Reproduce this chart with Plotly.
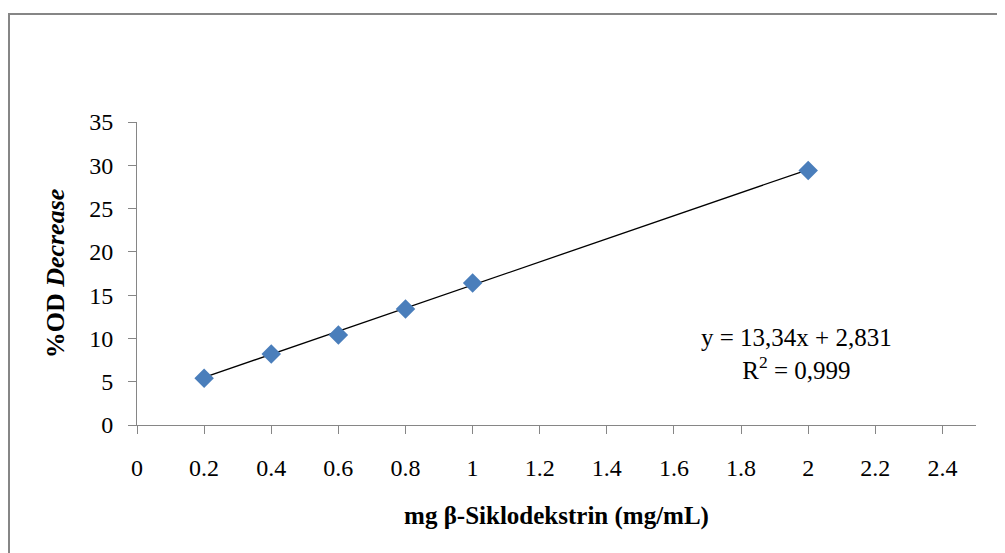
import plotly.graph_objects as go

x_vals = [0.2, 0.4, 0.6, 0.8, 1.0, 2.0]
y_vals = [5.4, 8.2, 10.4, 13.4, 16.4, 29.4]
slope = 13.34
intercept = 2.831
eq_text = "y = 13,34x + 2,831<br>R<sup>2</sup> = 0,999"
x_ticks = [0, 0.2, 0.4, 0.6, 0.8, 1.0, 1.2, 1.4, 1.6, 1.8, 2.0, 2.2, 2.4]
x_ticklabels = ["0", "0.2", "0.4", "0.6", "0.8", "1", "1.2", "1.4", "1.6", "1.8", "2", "2.2", "2.4"]
y_ticks = [0, 5, 10, 15, 20, 25, 30, 35]

fnt = "Liberation Serif, Times New Roman, serif"

trend_x = [min(x_vals), max(x_vals)]
trend_y = [slope * v + intercept for v in trend_x]

fig = go.Figure()
fig.add_trace(go.Scatter(x=trend_x, y=trend_y, mode="lines",
                         line=dict(color="black", width=1.3), showlegend=False, hoverinfo="skip"))
fig.add_trace(go.Scatter(x=x_vals, y=y_vals, mode="markers",
                         marker=dict(symbol="diamond", size=15, color="#4A7EBB",
                                     line=dict(width=0)), showlegend=False))

fig.update_layout(
    width=1005, height=553,
    margin=dict(l=129, r=37, t=114, b=136),
    paper_bgcolor="white", plot_bgcolor="white",
    font=dict(family=fnt, size=24, color="black"),
    xaxis=dict(range=[0, 2.5], tickvals=x_ticks, ticktext=x_ticklabels,
               showgrid=False, zeroline=False, showline=True, linecolor="#868686", linewidth=1,
               ticks="outside", ticklen=8, tickcolor="#868686", ticklabelstandoff=13,
               tickfont=dict(family=fnt, size=24),
               title=dict(text="<b>mg β-Siklodekstrin (mg/mL)</b>", font=dict(family=fnt, size=25), standoff=26)),
    yaxis=dict(range=[0, 35], tickvals=y_ticks,
               showgrid=False, zeroline=False, showline=True, linecolor="#868686", linewidth=1,
               ticks="outside", ticklen=8, tickcolor="#868686", ticklabelstandoff=10,
               tickfont=dict(family=fnt, size=24),
               title=dict(text="<b>%OD <i>Decrease</i></b>", font=dict(family=fnt, size=26), standoff=17)),
    annotations=[dict(x=1.964, y=8.2, xref="x", yref="y", text=eq_text, showarrow=False,
                      font=dict(family=fnt, size=25), align="center")],
    shapes=[dict(type="rect", xref="paper", yref="paper",
                 x0=(138 - 137 - 129) / 839, x1=(1010 - 137) / 839,
                 y0=(425 - 560) / 303, y1=(425 - 14) / 303,
                 line=dict(color="#868686", width=2), fillcolor="rgba(0,0,0,0)", layer="below")],
)

fig.write_html("out.html")
